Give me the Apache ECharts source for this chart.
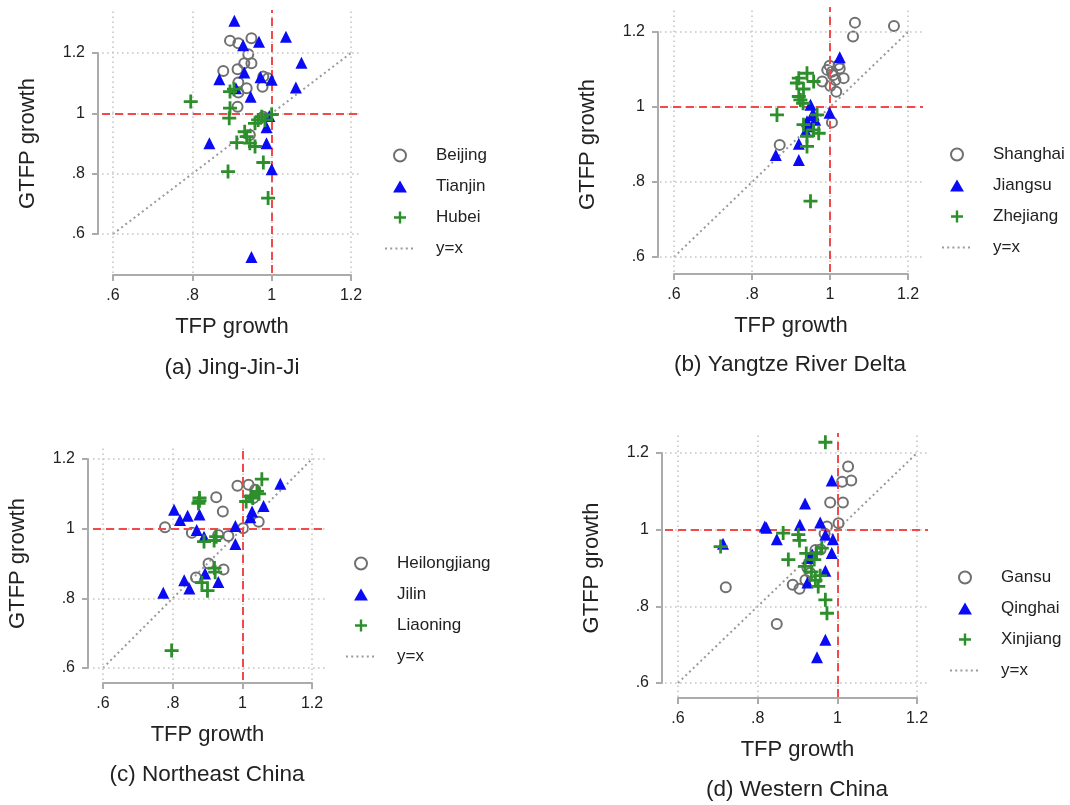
<!DOCTYPE html>
<html>
<head>
<meta charset="utf-8">
<script src="https://cdn.jsdelivr.net/npm/echarts@6/dist/echarts.min.js"></script>
<style>
  html, body { margin: 0; padding: 0; background: #fff; }
  #chart { width: 1070px; height: 805px; }
</style>
</head>
<body>
<div id="chart"></div>
<script>
// Each point: [TFP growth, GTFP growth] for one province-year.
const beijing = [[0.895,1.241],[0.916,1.232],[0.949,1.249],[0.941,1.196],[0.931,1.166],[0.949,1.166],[0.878,1.140],[0.914,1.146],[0.916,1.102],[0.979,1.122],[0.991,1.116],[0.937,1.083],[0.977,1.088],[0.916,1.069],[0.914,1.022],[0.945,0.928],[0.979,0.989]];
const tianjin = [[0.906,1.307],[1.036,1.254],[0.928,1.226],[0.968,1.237],[1.075,1.168],[0.868,1.113],[0.931,1.135],[0.972,1.120],[1.000,1.111],[1.061,1.086],[0.910,1.083],[0.947,1.055],[0.994,0.991],[0.987,0.954],[0.843,0.901],[0.987,0.901],[1.000,0.815],[0.949,0.524]];
const hubei = [[0.796,1.039],[0.895,1.072],[0.905,1.080],[0.895,1.017],[0.893,0.984],[0.966,0.978],[0.975,0.989],[0.983,0.978],[1.000,0.996],[0.958,0.967],[0.932,0.939],[0.937,0.923],[0.912,0.903],[0.945,0.901],[0.958,0.890],[0.979,0.837],[0.890,0.807],[0.991,0.719]];

const shanghai = [[1.064,1.225],[1.164,1.216],[1.059,1.188],[0.999,1.110],[1.025,1.103],[1.005,1.094],[0.993,1.099],[1.035,1.077],[1.014,1.072],[0.980,1.068],[1.001,1.056],[1.016,1.041],[1.005,0.959],[0.871,0.899],[1.022,1.112],[1.008,1.085]];
const jiangsu = [[1.025,1.133],[0.950,1.006],[0.999,0.985],[0.954,0.978],[0.962,0.966],[0.941,0.962],[0.945,0.949],[0.938,0.936],[0.920,0.902],[0.861,0.872],[0.920,0.859],[0.958,0.980]];
const zhejiang = [[0.941,1.090],[0.920,1.077],[0.958,1.068],[0.915,1.064],[0.932,1.048],[0.920,1.028],[0.924,1.019],[0.931,1.010],[0.864,0.979],[0.967,0.979],[0.932,0.953],[0.958,0.939],[0.971,0.930],[0.941,0.922],[0.941,0.895],[0.950,0.749]];

const heilongjiang = [[0.778,1.004],[0.925,1.090],[0.944,1.049],[0.855,0.988],[0.931,0.982],[0.960,0.979],[0.986,1.123],[1.018,1.126],[1.037,1.112],[1.047,1.020],[1.002,1.001],[0.903,0.900],[0.946,0.883],[0.867,0.860],[1.032,1.088]];
const jilin = [[0.773,0.816],[0.804,1.054],[0.821,1.025],[0.843,1.037],[0.877,1.041],[0.869,0.996],[0.890,0.977],[0.980,1.008],[0.980,0.956],[1.023,1.033],[1.028,1.049],[1.061,1.065],[1.109,1.129],[0.833,0.852],[0.848,0.828],[0.893,0.871],[0.931,0.847]];
const liaoning = [[0.797,0.650],[0.877,1.088],[0.874,1.073],[0.877,1.080],[0.890,0.963],[0.919,0.966],[0.925,0.977],[1.011,1.078],[1.025,1.093],[1.056,1.142],[1.042,1.107],[1.048,1.100],[1.030,1.088],[0.884,0.845],[0.900,0.822],[0.920,0.887],[0.922,0.875]];

const gansu = [[1.027,1.165],[1.012,1.125],[1.035,1.128],[0.982,1.071],[1.014,1.071],[0.974,1.008],[1.003,1.017],[0.968,0.990],[0.720,0.850],[0.888,0.856],[0.905,0.846],[0.848,0.754],[0.945,0.947],[0.958,0.948],[0.932,0.887],[0.920,0.869],[0.925,0.900]];
const qinghai = [[0.986,1.128],[0.919,1.068],[0.818,1.008],[0.822,1.005],[0.906,1.013],[0.957,1.019],[0.713,0.963],[0.848,0.975],[0.970,0.987],[0.989,0.975],[0.986,0.939],[0.927,0.926],[0.937,0.935],[0.970,0.893],[0.925,0.862],[0.970,0.713],[0.949,0.667]];
const xinjiang = [[0.970,1.228],[0.864,0.991],[0.902,0.987],[0.905,0.972],[0.707,0.956],[0.877,0.922],[0.922,0.938],[0.961,0.952],[0.942,0.922],[0.948,0.940],[0.919,0.904],[0.957,0.880],[0.935,0.890],[0.945,0.868],[0.952,0.852],[0.970,0.817],[0.974,0.782]];

// Panel contents
const panelCaptions = ['(a) Jing-Jin-Ji', '(b) Yangtze River Delta', '(c) Northeast China', '(d) Western China'];
const panelProvinces = [
  ['Beijing', 'Tianjin', 'Hubei'],
  ['Shanghai', 'Jiangsu', 'Zhejiang'],
  ['Heilongjiang', 'Jilin', 'Liaoning'],
  ['Gansu', 'Qinghai', 'Xinjiang']
];
const panelSeries = [
  [beijing, tianjin, hubei],
  [shanghai, jiangsu, zhejiang],
  [heilongjiang, jilin, liaoning],
  [gansu, qinghai, xinjiang]
];
const tickValues = [0.6, 0.8, 1.0, 1.2];
const axisMin = 0.6, axisMax = 1.2, axisStep = 0.2;
const referenceValue = 1;        // dashed red lines at x = 1 and y = 1
const diagonal = [[0.6, 0.6], [1.2, 1.2]];   // the y = x guide
const xTitle = 'TFP growth';
const yTitle = 'GTFP growth';
const diagonalName = 'y=x';

// Pixel layout of each panel: where .6 and 1.2 fall on both axes,
// the plot region box, the offset axis lines, legend and caption anchors.
const layout = [
  { x06: 113, x12: 351, y12: 53,  y06: 234, L: 102, R: 362, T: 10,  B: 273, yAxisX: 98,  xAxisY: 275, legendLeft: 384, legendTop: 147, capX: 232, capY: 368 },
  { x06: 674, x12: 908, y12: 32,  y06: 257, L: 660, R: 923, T: 7,   B: 272, yAxisX: 658, xAxisY: 274, legendLeft: 941, legendTop: 146, capX: 790, capY: 365 },
  { x06: 103, x12: 312, y12: 459, y06: 668, L: 93,  R: 325, T: 447, B: 680, yAxisX: 88,  xAxisY: 683, legendLeft: 345, legendTop: 555, capX: 207, capY: 775 },
  { x06: 678, x12: 917, y12: 453, y06: 683, L: 665, R: 928, T: 433, B: 697, yAxisX: 662, xAxisY: 698, legendLeft: 949, legendTop: 569, capX: 797, capY: 790 }
];

const FONT = '"Liberation Sans", Arial, Helvetica, sans-serif';
const INK = '#222222';
const AXIS_GREY = '#ababab';
const GRID_GREY = '#c6c6c6';
const REF_RED = '#f04a4a';
const DIAG_GREY = '#9a9a9a';
const TRIANGLE = 'path://M6,0L12,10.4H0Z';
const PLUS = 'path://M4.8,0H7.2V4.8H12V7.2H7.2V12H4.8V7.2H0V4.8H4.8Z';

const markerStyles = [
  { symbol: 'circle', symbolSize: 10, itemStyle: { color: 'rgba(0,0,0,0)', borderColor: '#707070', borderWidth: 2, opacity: 1 } },
  { symbol: TRIANGLE, symbolSize: 12, itemStyle: { color: '#0a0af5', opacity: 1 } },
  { symbol: PLUS,     symbolSize: 14, itemStyle: { color: '#2c8f2c', opacity: 1 } }
];

function tickText(v) {
  const s = String(Number(v.toFixed(2)));
  return s.startsWith('0.') ? s.slice(1) : s;
}

const option = {
  animation: false,
  backgroundColor: '#ffffff',
  grid: [], xAxis: [], yAxis: [], series: [], legend: [], graphic: []
};

layout.forEach((p, i) => {
  const sx = (p.x12 - p.x06) / (axisMax - axisMin);
  const sy = (p.y06 - p.y12) / (axisMax - axisMin);
  const dataGrid = option.grid.length;

  // plot region (data scale), then the frame that carries the visible axes
  option.grid.push({ left: p.L, top: p.T, width: p.R - p.L, height: p.B - p.T, containLabel: false });
  option.grid.push({ left: p.x06, top: p.y12, width: p.x12 - p.x06, height: p.y06 - p.y12, containLabel: false });

  option.xAxis.push({
    type: 'value', gridIndex: dataGrid, show: false,
    min: axisMin - (p.x06 - p.L) / sx, max: axisMax + (p.R - p.x12) / sx
  });
  option.yAxis.push({
    type: 'value', gridIndex: dataGrid, show: false,
    min: axisMin - (p.B - p.y06) / sy, max: axisMax + (p.y12 - p.T) / sy
  });

  const axisCommon = {
    type: 'value', gridIndex: dataGrid + 1,
    min: axisMin, max: axisMax, interval: axisStep,
    nameLocation: 'middle',
    nameTextStyle: { fontFamily: FONT, fontSize: 22, color: INK },
    axisLine: { show: true, lineStyle: { color: AXIS_GREY, width: 2 } },
    axisTick: { show: true, inside: false, length: 6, lineStyle: { color: AXIS_GREY, width: 2 } },
    axisLabel: { show: true, margin: 13, fontFamily: FONT, fontSize: 16, color: INK, formatter: tickText },
    splitLine: { show: false }
  };
  option.xAxis.push(Object.assign({}, axisCommon, {
    position: 'bottom', offset: p.xAxisY - p.y06, name: xTitle, nameGap: 41
  }));
  option.yAxis.push(Object.assign({}, axisCommon, {
    position: 'left', offset: p.x06 - p.yAxisX, name: yTitle, nameGap: 59
  }));

  const xi = dataGrid, yi = dataGrid;

  // dotted grid at the tick values
  const gridLines = [];
  tickValues.forEach(v => {
    gridLines.push({ xAxis: v });
    gridLines.push({ yAxis: v });
  });
  option.series.push({
    type: 'line', xAxisIndex: xi, yAxisIndex: yi, data: [], silent: true, z: 1,
    markLine: {
      silent: true, symbol: ['none', 'none'], label: { show: false },
      lineStyle: { color: GRID_GREY, width: 1.6, type: [1.6, 3.4] },
      emphasis: { disabled: true },
      data: gridLines
    }
  });
  // reference lines at 1
  option.series.push({
    type: 'line', xAxisIndex: xi, yAxisIndex: yi, data: [], silent: true, z: 2,
    markLine: {
      silent: true, symbol: ['none', 'none'], label: { show: false },
      lineStyle: { color: REF_RED, width: 2, type: [8, 5] },
      emphasis: { disabled: true },
      data: [{ xAxis: referenceValue }, { yAxis: referenceValue }]
    }
  });
  // y = x guide
  option.series.push({
    type: 'line', name: diagonalName, xAxisIndex: xi, yAxisIndex: yi, z: 3,
    data: diagonal, symbol: 'none', silent: true,
    itemStyle: { color: DIAG_GREY },
    lineStyle: { color: DIAG_GREY, width: 2, type: [2, 3.2] }
  });
  // provinces
  panelProvinces[i].forEach((name, k) => {
    const m = markerStyles[k];
    option.series.push({
      type: 'scatter', name: name, xAxisIndex: xi, yAxisIndex: yi, z: 4 + k,
      data: panelSeries[i][k], clip: false,
      symbol: m.symbol, symbolSize: m.symbolSize, itemStyle: m.itemStyle
    });
  });

  option.legend.push({
    orient: 'vertical', left: p.legendLeft, top: p.legendTop, padding: 0,
    itemWidth: 30, itemHeight: 12, itemGap: 14, selectedMode: false,
    symbolKeepAspect: true,
    data: panelProvinces[i].concat([{ name: diagonalName, itemStyle: { opacity: 0 } }]),
    textStyle: { fontFamily: FONT, fontSize: 17, color: INK, padding: [0, 0, 0, 16] }
  });

  option.graphic.push({
    type: 'text', x: p.capX, y: p.capY,
    style: { text: panelCaptions[i], fontFamily: FONT, fontSize: 22.5, fill: INK, align: 'center', verticalAlign: 'middle' }
  });
});

const chart = echarts.init(document.getElementById('chart'), null, { renderer: 'canvas' });
chart.setOption(option);
</script>
</body>
</html>
